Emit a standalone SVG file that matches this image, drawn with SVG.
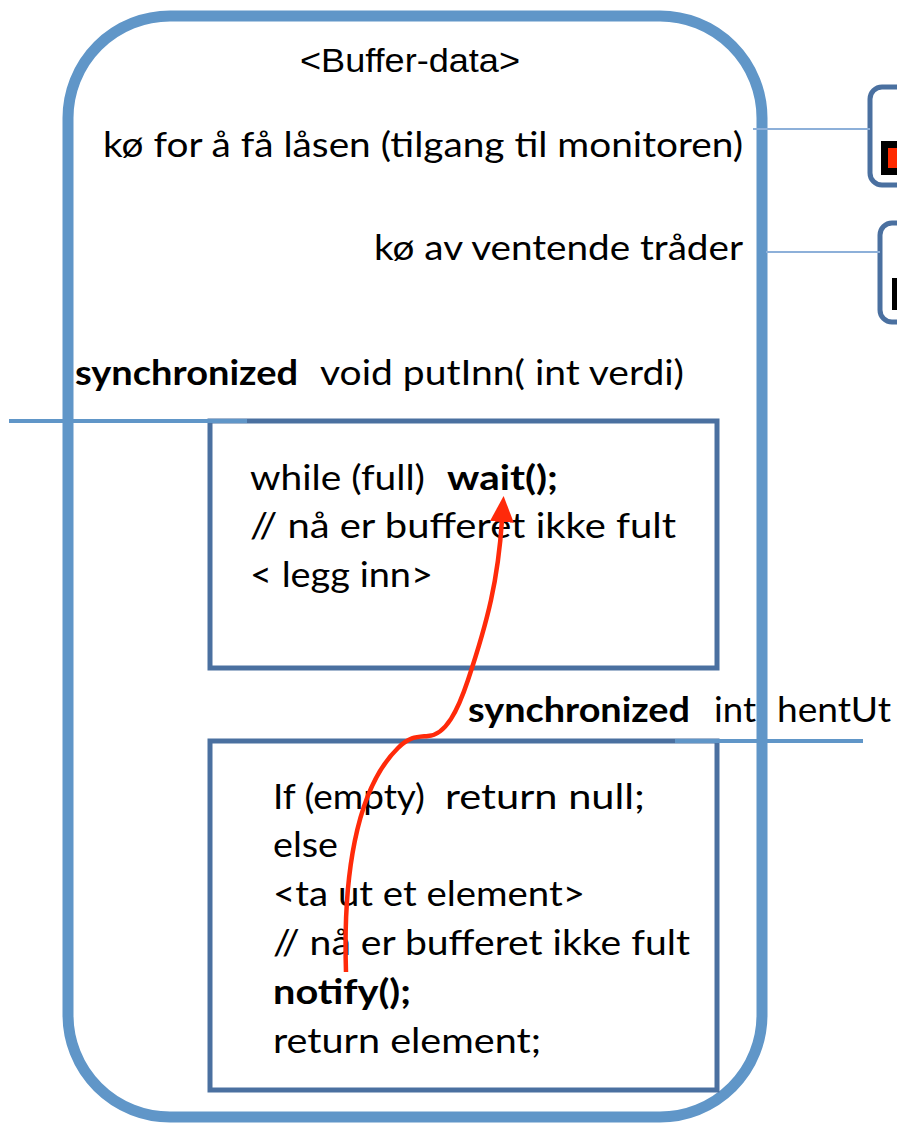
<svg xmlns="http://www.w3.org/2000/svg" width="897" height="1123" viewBox="0 0 897 1123">
<style>
.outer{fill:none;stroke:#6096c8;stroke-width:11}
.box{fill:none;stroke:#4a70a0;stroke-width:5}
.qbox{fill:none;stroke:#4a70a0;stroke-width:5}
.conn{stroke:#8db0d9;stroke-width:2;fill:none}
.sep{stroke:#6096c8;stroke-width:4;fill:none}
.t{font-family:Lato,"Liberation Sans",sans-serif;font-size:34px;fill:#000}
.b{font-weight:bold}
.a{font-family:"Liberation Sans",Arial,sans-serif;font-size:34px;fill:#000}
.red{stroke:#ff2a0a;stroke-width:4.5;fill:none}
</style>
<defs>
<marker id="ah" viewBox="0 0 26 24" markerWidth="26" markerHeight="24" refX="2" refY="12" orient="auto" markerUnits="userSpaceOnUse">
<path d="M0,0 L26,12 L0,24 z" fill="#ff2a0a"/>
</marker>
</defs>
<rect width="897" height="1123" fill="#fff"/>

<g id="monitor">
<rect class="outer" x="68" y="16" width="694" height="1101" rx="102" ry="102"/>
<text class="a" x="300" y="72" textLength="220" lengthAdjust="spacingAndGlyphs">&lt;Buffer-data&gt;</text>
<text class="t" x="103" y="157" textLength="640" lengthAdjust="spacingAndGlyphs">kø for å få låsen (tilgang til monitoren)</text>
<text class="t" x="374" y="260" textLength="369" lengthAdjust="spacingAndGlyphs">kø av ventende tråder</text>
</g>

<g id="queue-lock">
<rect class="qbox" x="870" y="87" width="60" height="98" rx="12" ry="12"/>
<rect x="881" y="141" width="30" height="34" fill="#000"/>
<rect x="888" y="148" width="20" height="20" fill="#ff2a00"/>
</g>

<g id="queue-wait">
<rect class="qbox" x="880" y="223" width="60" height="99" rx="12" ry="12"/>
<rect x="892" y="278" width="20" height="32" fill="#000"/>
</g>

<g id="putInn">
<text class="t" y="385"><tspan class="b" x="75" textLength="223" lengthAdjust="spacingAndGlyphs">synchronized</tspan><tspan x="320" textLength="364" lengthAdjust="spacingAndGlyphs">void putInn( int verdi)</tspan></text>
<rect class="box" x="210" y="421" width="507" height="247"/>
<text class="t" y="490"><tspan x="250" textLength="175" lengthAdjust="spacingAndGlyphs">while (full)</tspan><tspan class="b" x="447" textLength="111" lengthAdjust="spacingAndGlyphs">wait();</tspan></text>
<text class="t" x="250" y="538" textLength="426" lengthAdjust="spacingAndGlyphs">//  nå er bufferet ikke fult</text>
<text class="t" x="250" y="587" textLength="183" lengthAdjust="spacingAndGlyphs">&lt; legg inn&gt;</text>
</g>

<g id="hentUt">
<text class="t" y="722"><tspan class="b" x="468" textLength="222" lengthAdjust="spacingAndGlyphs">synchronized</tspan><tspan x="714" textLength="42" lengthAdjust="spacingAndGlyphs">int</tspan><tspan x="777" textLength="114" lengthAdjust="spacingAndGlyphs">hentUt</tspan></text>
<rect class="box" x="210" y="741" width="507" height="349"/>
<text class="t" y="809"><tspan x="273" textLength="152" lengthAdjust="spacingAndGlyphs">If (empty)</tspan><tspan x="445" textLength="200" lengthAdjust="spacingAndGlyphs">return null;</tspan></text>
<text class="t" x="273" y="857" textLength="65" lengthAdjust="spacingAndGlyphs">else</text>
<text class="t" x="273" y="906" textLength="312" lengthAdjust="spacingAndGlyphs">&lt;ta ut et element&gt;</text>
<text class="t" x="273" y="955" textLength="417" lengthAdjust="spacingAndGlyphs">// nå er bufferet ikke fult</text>
<text class="t b" x="273" y="1004" textLength="138" lengthAdjust="spacingAndGlyphs">notify();</text>
<text class="t" x="273" y="1053" textLength="268" lengthAdjust="spacingAndGlyphs">return element;</text>
</g>

<g id="connectors">
<line class="conn" x1="753" y1="129" x2="870" y2="129"/>
<line class="conn" x1="766" y1="252" x2="880" y2="252"/>
<line class="sep" x1="9" y1="421" x2="247" y2="421"/>
<line class="sep" x1="675" y1="741" x2="863" y2="741"/>
<path class="red" d="M346,972 C343,880 355,790 398,748 C410,736 418,737 428,736 C446,735 458,710 468,680 C488,620 498,580 502,520" marker-end="url(#ah)"/>
</g>
</svg>
